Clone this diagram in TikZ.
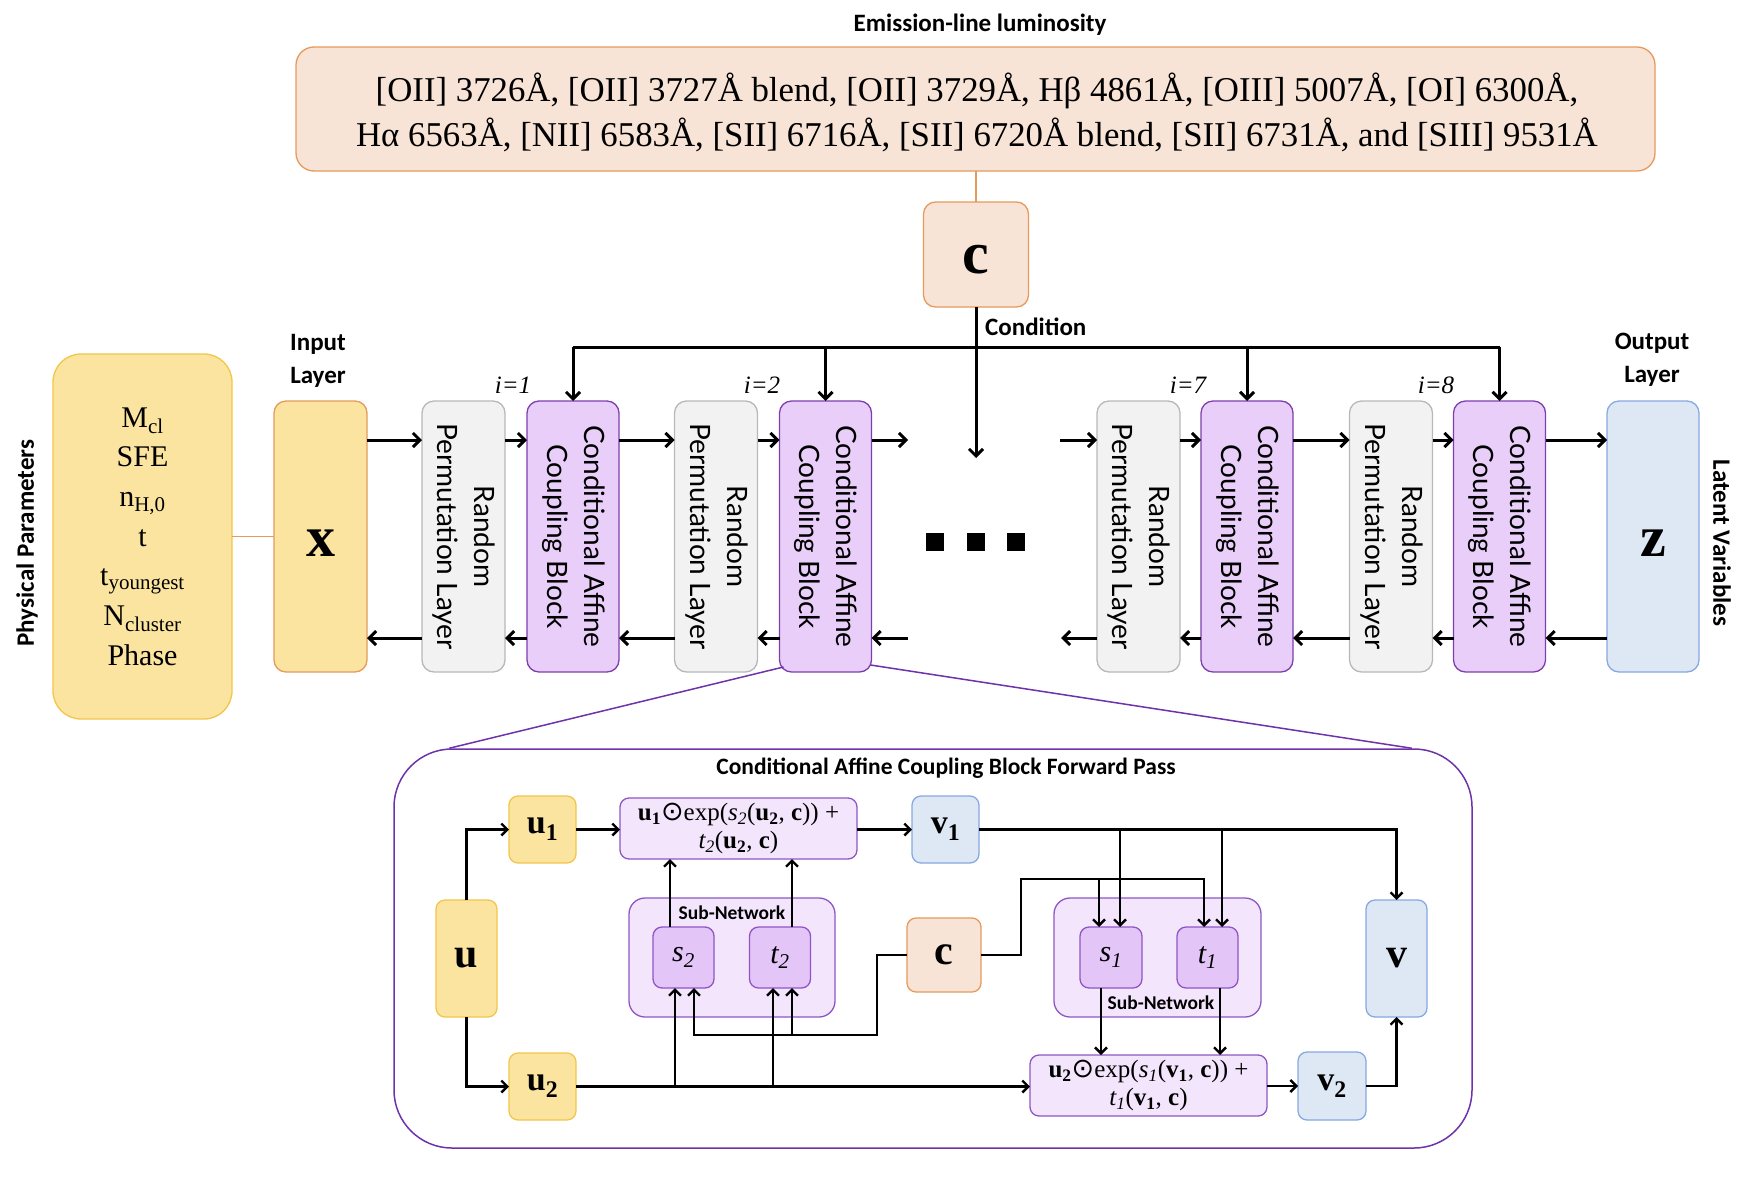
\documentclass[tikz,border=0pt]{standalone}
\usepackage{fontspec}
\setmainfont{Liberation Serif}
\newfontfamily\latofont{Lato}
\newfontfamily\carlfont{Carlito}
\newfontfamily\djvfont{DejaVu Sans}
\usetikzlibrary{arrows.meta,calc}
\definecolor{yelF}{HTML}{FBE4A0}
\definecolor{yelD}{HTML}{F2C64A}
\definecolor{orgD}{HTML}{E69A5B}
\definecolor{pchF}{HTML}{F8E4D6}
\definecolor{purF}{HTML}{E8CEF9}
\definecolor{purD}{HTML}{7E3FAE}
\definecolor{gryF}{HTML}{F2F2F2}
\definecolor{gryD}{HTML}{B8B8B8}
\definecolor{bluF}{HTML}{DEE8F5}
\definecolor{bluD}{HTML}{86A9E0}
\definecolor{lavF}{HTML}{F3E6FC}
\definecolor{lavD}{HTML}{8F55C4}
\definecolor{stF}{HTML}{E3C5F8}
\definecolor{bigD}{HTML}{6E33AA}
\newcommand{\odt}{{\djvfont\fontsize{27}{27}\selectfont ⊙}}
\begin{document}
\begin{tikzpicture}[x=1pt,y=-1pt,
  bx/.style={draw, rounded corners=12pt, inner sep=0pt, outer sep=0pt, line width=1.3pt, align=center},
  yel/.style={bx, fill=yelF, draw=yelD},
  pch/.style={bx, fill=pchF, draw=orgD},
  cacb/.style={bx, fill=purF, draw=purD, minimum width=92pt, minimum height=271pt, font=\latofont\fontsize{28}{37}\selectfont},
  rpl/.style={bx, fill=gryF, draw=gryD, minimum width=83pt, minimum height=271pt, font=\latofont\fontsize{28}{37}\selectfont},
  blu/.style={bx, fill=bluF, draw=bluD},
  lbx/.style={bx, rounded corners=9pt},
  form/.style={lbx, fill=lavF, draw=lavD, minimum width=237pt, minimum height=61pt, font=\fontsize{25}{28}\selectfont},
  subn/.style={lbx, rounded corners=16pt, fill=lavF, draw=lavD, minimum width=206pt, minimum height=119pt},
  stb/.style={lbx, fill=stF, draw=lavD, minimum width=61pt, minimum height=61pt, font=\fontsize{30}{32}\selectfont\itshape},
  lab/.style={font=\carlfont\bfseries\fontsize{25}{33}\selectfont, align=center, inner sep=0pt},
  ilab/.style={font=\fontsize{25}{28}\selectfont\itshape, inner sep=0pt},
  big/.style={font=\fontsize{42}{46}\selectfont\bfseries},
  med/.style={font=\fontsize{34}{38}\selectfont\bfseries},
  arr/.style={line width=3pt, -{Straight Barb[length=7pt,width=14pt]}},
  wire/.style={line width=3pt},
  larr/.style={line width=2.4pt, -{Straight Barb[length=6pt,width=12pt]}},
  lwire/.style={line width=2.4pt},
  thin/.style={draw=orgD, line width=1.2pt}]
\useasboundingbox (0,0) rectangle (1746,1178);

% ---------- top ----------
\node[lab] (emt) at (980,25) {Emission-line luminosity};
\node[pch, rounded corners=18pt, minimum width=1359pt, minimum height=124pt] (em) at (975.5,109) {};
\node[font=\fontsize{34.8}{45}\selectfont, align=center, inner sep=0pt] (emtx) at (977,112)
  {[OII] 3726Å, [OII] 3727Å blend, [OII] 3729Å, Hβ 4861Å, [OIII] 5007Å, [OI] 6300Å,\\
   Hα 6563Å, [NII] 6583Å, [SII] 6716Å, [SII] 6720Å blend, [SII] 6731Å, and [SIII] 9531Å};
\node[pch, minimum width=105pt, minimum height=105pt] (ctop) at (976,254.5) {};
\node[font=\fontsize{60}{62}\selectfont\bfseries, inner sep=0pt] (ctopl) at (976,260) {c};
\draw[thin] (em.south -| ctop.north) -- (ctop.north);
\node[lab, anchor=west] (cond) at (985,327) {Condition};

% ---------- main row ----------
\node[yel, rounded corners=28pt, minimum width=179pt, minimum height=365pt, font=\fontsize{30}{39.7}\selectfont] (phys) at (142.5,536.5)
  {M\textsubscript{cl}\\SFE\\n\textsubscript{H,0}\\t\\t\textsubscript{youngest}\\N\textsubscript{cluster}\\Phase};
\node[lab, rotate=90] (physl) at (27,543) {Physical Parameters};
\node[bx, fill=yelF, draw=orgD, minimum width=93pt, minimum height=271pt] (x) at (320.5,536.5) {};
\node[font=\fontsize{58}{60}\selectfont\bfseries, inner sep=0pt] (xl) at (320.5,543) {x};
\node[lab] (inl) at (318,361) {Input\\Layer};
\draw[thin] (phys.east) -- (x.west);

\node[rpl] (r1) at (463.5,536.5) {\rotatebox{-90}{\begin{tabular}{@{}c@{}}Random\\Permutation Layer\end{tabular}}};
\node[cacb] (a1) at (573,536.5) {\rotatebox{-90}{\begin{tabular}{@{}c@{}}Conditional Affine\\Coupling Block\end{tabular}}};
\node[rpl] (r2) at (716,536.5) {\rotatebox{-90}{\begin{tabular}{@{}c@{}}Random\\Permutation Layer\end{tabular}}};
\node[cacb] (a2) at (825.5,536.5) {\rotatebox{-90}{\begin{tabular}{@{}c@{}}Conditional Affine\\Coupling Block\end{tabular}}};
\node[rpl] (r7) at (1138.5,536.5) {\rotatebox{-90}{\begin{tabular}{@{}c@{}}Random\\Permutation Layer\end{tabular}}};
\node[cacb] (a7) at (1247,536.5) {\rotatebox{-90}{\begin{tabular}{@{}c@{}}Conditional Affine\\Coupling Block\end{tabular}}};
\node[rpl] (r8) at (1391,536.5) {\rotatebox{-90}{\begin{tabular}{@{}c@{}}Random\\Permutation Layer\end{tabular}}};
\node[cacb] (a8) at (1499.5,536.5) {\rotatebox{-90}{\begin{tabular}{@{}c@{}}Conditional Affine\\Coupling Block\end{tabular}}};
\node[blu, minimum width=92pt, minimum height=271pt] (z) at (1653,536.5) {};
\node[font=\fontsize{58}{60}\selectfont\bfseries, inner sep=0pt] (zl) at (1653,543) {z};
\node[lab] (outl) at (1652,360) {Output\\Layer};
\node[lab, rotate=-90] (latl) at (1722,543) {Latent Variables};

\node[ilab] (i1) at (513,385) {i=1};
\node[ilab] (i2) at (762,385) {i=2};
\node[ilab] (i7) at (1188,385) {i=7};
\node[ilab] (i8) at (1436,385) {i=8};

\foreach \xx/\nm in {935/d1,976/d2,1016/d3}
  \node[fill=black, minimum size=18pt, inner sep=0pt] (\nm) at (\xx,542) {};

\coordinate (fy) at (0,440);
\coordinate (by) at (0,638);
\coordinate (hy) at (0,347);
\coordinate (g1) at (908,440);
\coordinate (g2) at (1060,440);
\coordinate (g3) at (908,638);
\coordinate (g4) at (1061,638);
\coordinate (midend) at (976,458);

% forward
\draw[arr] (x.east |- fy) -- (r1.west |- fy);
\draw[arr] (r1.east |- fy) -- (a1.west |- fy);
\draw[arr] (a1.east |- fy) -- (r2.west |- fy);
\draw[arr] (r2.east |- fy) -- (a2.west |- fy);
\draw[arr] (a2.east |- fy) -- (g1);
\draw[arr] (g2) -- (r7.west |- fy);
\draw[arr] (r7.east |- fy) -- (a7.west |- fy);
\draw[arr] (a7.east |- fy) -- (r8.west |- fy);
\draw[arr] (r8.east |- fy) -- (a8.west |- fy);
\draw[arr] (a8.east |- fy) -- (z.west |- fy);
% backward
\draw[arr] (z.west |- by) -- (a8.east |- by);
\draw[arr] (a8.west |- by) -- (r8.east |- by);
\draw[arr] (r8.west |- by) -- (a7.east |- by);
\draw[arr] (a7.west |- by) -- (r7.east |- by);
\draw[arr] (r7.west |- by) -- (g4);
\draw[arr] (g3) -- (a2.east |- by);
\draw[arr] (a2.west |- by) -- (r2.east |- by);
\draw[arr] (r2.west |- by) -- (a1.east |- by);
\draw[arr] (a1.west |- by) -- (r1.east |- by);
\draw[arr] (r1.west |- by) -- (x.east |- by);
% condition
\draw[wire] (a1.north |- hy) -- (a8.north |- hy);
\draw[arr] (ctop.south) -- (midend);
\foreach \n in {a1,a2,a7,a8} \draw[arr] (\n.north |- hy) -- (\n.north);

% ---------- lower panel ----------
\node[draw=bigD, line width=1.5pt, rounded corners=58pt, minimum width=1078pt, minimum height=399pt, inner sep=0pt] (bigbox) at (933,948.5) {};
\draw[draw=bigD, line width=1.5pt] ($(a2.south west)+(4,-5)$) -- ($(bigbox.north west)+(56,0)$);
\draw[draw=bigD, line width=1.5pt] ($(a2.south east)+(-1,-7)$) -- ($(bigbox.north east)+(-61,0)$);
\node[lab, font=\carlfont\bfseries\fontsize{23.5}{28}\selectfont] (bbt) at (946,768) {Conditional Affine Coupling Block Forward Pass};

\node[yel, lbx, minimum width=61pt, minimum height=117pt, big] (u) at (466.5,958.5) {u};
\node[yel, lbx, minimum width=67pt, minimum height=67pt, med] (u1) at (542.5,829.5) {u\textsubscript{1}};
\node[yel, lbx, minimum width=67pt, minimum height=67pt, med] (u2) at (542.5,1086.5) {u\textsubscript{2}};
\node[form] (f1) at (738.5,828.5) {\textbf{u\textsubscript{1}}\odt exp(\textit{s\textsubscript{2}}(\textbf{u\textsubscript{2}}, \textbf{c})) +\\\textit{t\textsubscript{2}}(\textbf{u\textsubscript{2}}, \textbf{c})};
\node[subn] (sn2) at (732,957.5) {};
\node[lab, font=\carlfont\bfseries\fontsize{19.5}{22}\selectfont] (sn2l) at (732,913) {Sub-Network};
\node[stb] (s2) at (683.5,957.5) {s\textsubscript{2}};
\node[stb] (t2) at (780,957.5) {t\textsubscript{2}};
\node[pch, lbx, minimum width=74pt, minimum height=74pt, big] (cl) at (944,955) {c};
\node[blu, lbx, minimum width=67pt, minimum height=67pt, med] (v1) at (945.5,829.5) {v\textsubscript{1}};
\node[subn, minimum width=207pt] (sn1) at (1157.5,957.5) {};
\node[lab, font=\carlfont\bfseries\fontsize{19.5}{22}\selectfont] (sn1l) at (1161,1003) {Sub-Network};
\node[stb, minimum width=62pt] (s1) at (1111,957.5) {s\textsubscript{1}};
\node[stb] (t1) at (1207.5,957.5) {t\textsubscript{1}};
\node[blu, lbx, minimum width=61pt, minimum height=117pt, big] (v) at (1396.5,958.5) {v};
\node[form] (f2) at (1148.5,1085.5) {\textbf{u\textsubscript{2}}\odt exp(\textit{s\textsubscript{1}}(\textbf{v\textsubscript{1}}, \textbf{c})) +\\\textit{t\textsubscript{1}}(\textbf{v\textsubscript{1}}, \textbf{c})};
\node[blu, lbx, minimum width=68pt, minimum height=68pt, med] (v2) at (1332,1086) {v\textsubscript{2}};

\coordinate (xs2u) at (675,0);
\coordinate (xs2c) at (694,0);
\coordinate (xt2u) at (773,0);
\coordinate (xt2c) at (792,0);
\coordinate (xf1s) at (670,0);
\coordinate (cA) at (877,1035);
\coordinate (cB) at (1021,879);
\coordinate (xs1c) at (1099,0);
\coordinate (xs1v) at (1120,0);
\coordinate (xt1c) at (1204,0);
\coordinate (xt1v) at (1222,0);
\coordinate (xs1d) at (1101,0);
\coordinate (xt1d) at (1220,0);

\draw[larr] (u.north) |- (u1.west);
\draw[larr] (u.south) |- (u2.west);
\draw[larr] (u1.east) -- (u1.east -| f1.west);
\draw[larr] (f1.east |- u1.east) -- (v1.west |- u1.east);
\draw[larr] (s2.north -| xf1s) -- (f1.south -| xf1s);
\draw[larr] (t2.north -| xt2c) -- (f1.south -| xt2c);
\draw[larr] (u2.east) -- (u2.east -| f2.west);
\draw[larr] (u2.east -| xs2u) -- (s2.south -| xs2u);
\draw[larr] (u2.east -| xt2u) -- (t2.south -| xt2u);
\draw[larr] (cl.west) -| (cA) -| (s2.south -| xs2c);
\draw[larr] (cA -| xt2c) -- (t2.south -| xt2c);
\draw[larr] (cl.east) -| (cB) -| (t1.north -| xt1c);
\draw[larr] (cB -| xs1c) -- (s1.north -| xs1c);
\draw[larr] (v1.east) -| (v.north);
\draw[larr] (v1.east -| xs1v) -- (s1.north -| xs1v);
\draw[larr] (v1.east -| xt1v) -- (t1.north -| xt1v);
\draw[larr] (s1.south -| xs1d) -- (f2.north -| xs1d);
\draw[larr] (t1.south -| xt1d) -- (f2.north -| xt1d);
\draw[larr] (f2.east |- v2.west) -- (v2.west);
\draw[larr] (v2.east) -| (v.south);
\end{tikzpicture}
\end{document}
